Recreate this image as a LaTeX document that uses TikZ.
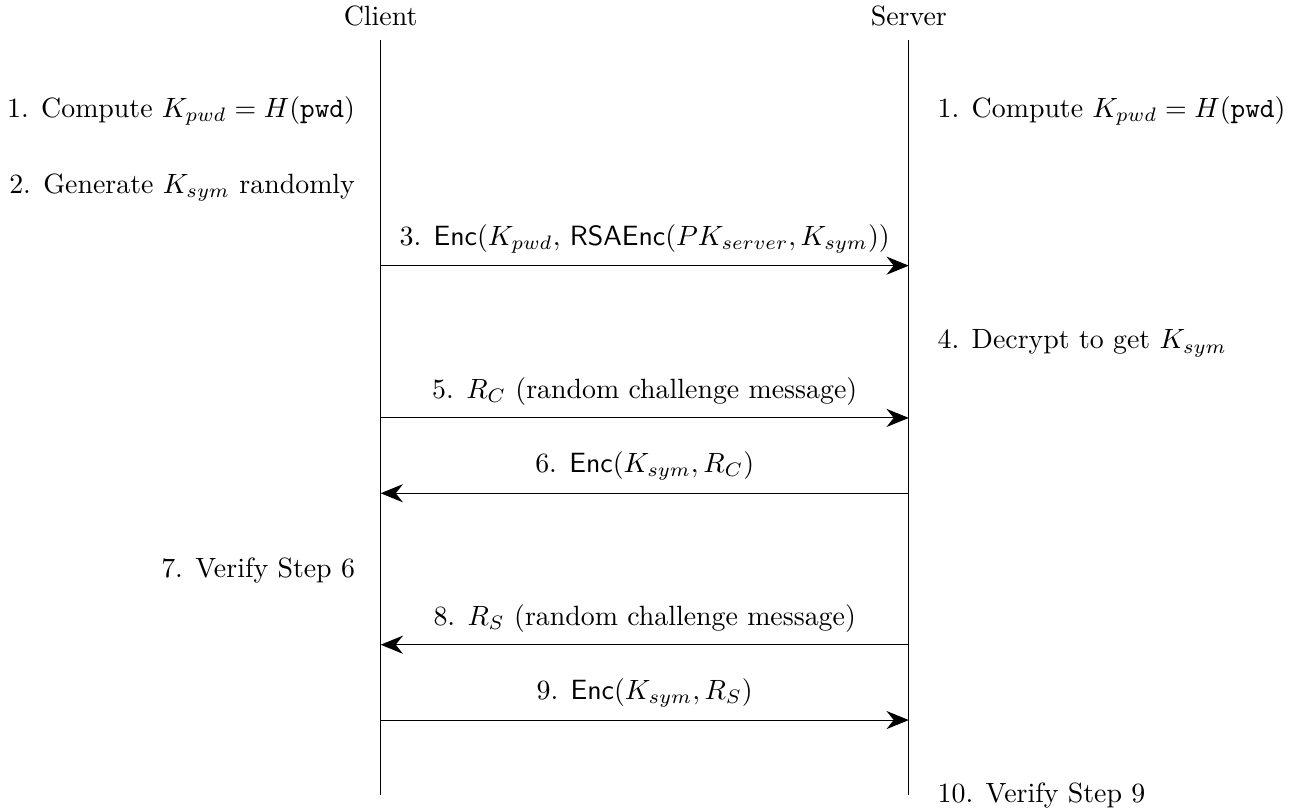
\documentclass[tikz,border=0pt]{standalone}
\usetikzlibrary{arrows.meta}
\newcommand{\Enc}{\textsf{Enc}}
\newcommand{\RSAEnc}{\textsf{RSAEnc}}
\begin{document}
\begin{tikzpicture}[>={Stealth[length=8pt,width=6.5pt]}]
    \useasboundingbox (0,0) rectangle (16.305,-10.202);

    % lifelines
    \node (client) at (4.80,-0.20) {Client};
    \node (server) at (11.46,-0.20) {Server};
    \coordinate (cbot) at (4.80,-10.03);
    \coordinate (sbot) at (11.46,-10.03);
    \draw (4.80,-0.50) coordinate (ctop) -- (cbot);
    \draw (11.46,-0.50) coordinate (stop) -- (sbot);

    % local steps
    \node[anchor=east] (c1) at (4.60,-1.40) {1. Compute $K_{pwd} = H(\texttt{pwd})$};
    \node[anchor=west] (s1) at (11.70,-1.40) {1. Compute $K_{pwd} = H(\texttt{pwd})$};
    \node[anchor=east] (c2) at (4.60,-2.37) {2. Generate $K_{sym}$ randomly};
    \node[anchor=west] (s4) at (11.70,-4.33) {4. Decrypt to get $K_{sym}$};
    \node[anchor=east] (c7) at (4.60,-7.19) {7. Verify Step 6};
    \node[anchor=west] (s10) at (11.70,-10.03) {10. Verify Step 9};

    % messages
    \coordinate (m3c) at (4.80,-3.35);  \coordinate (m3s) at (11.46,-3.35);
    \coordinate (m5c) at (4.80,-5.27);  \coordinate (m5s) at (11.46,-5.27);
    \coordinate (m6c) at (4.80,-6.22);  \coordinate (m6s) at (11.46,-6.22);
    \coordinate (m8c) at (4.80,-8.13);  \coordinate (m8s) at (11.46,-8.13);
    \coordinate (m9c) at (4.80,-9.08);  \coordinate (m9s) at (11.46,-9.08);

    \draw[->] (m3c) -- (m3s) node[midway, above=1pt] {3. \Enc$(K_{pwd},$ \RSAEnc$(PK_{server}, K_{sym}))$};
    \draw[->] (m5c) -- (m5s) node[midway, above=1pt] {5. $R_C$ (random challenge message)};
    \draw[->] (m6s) -- (m6c) node[midway, above=1pt] {6. \Enc$(K_{sym}, R_C)$};
    \draw[->] (m8s) -- (m8c) node[midway, above=1pt] {8. $R_S$ (random challenge message)};
    \draw[->] (m9c) -- (m9s) node[midway, above=1pt] {9. \Enc$(K_{sym}, R_S)$};
\end{tikzpicture}
\end{document}
